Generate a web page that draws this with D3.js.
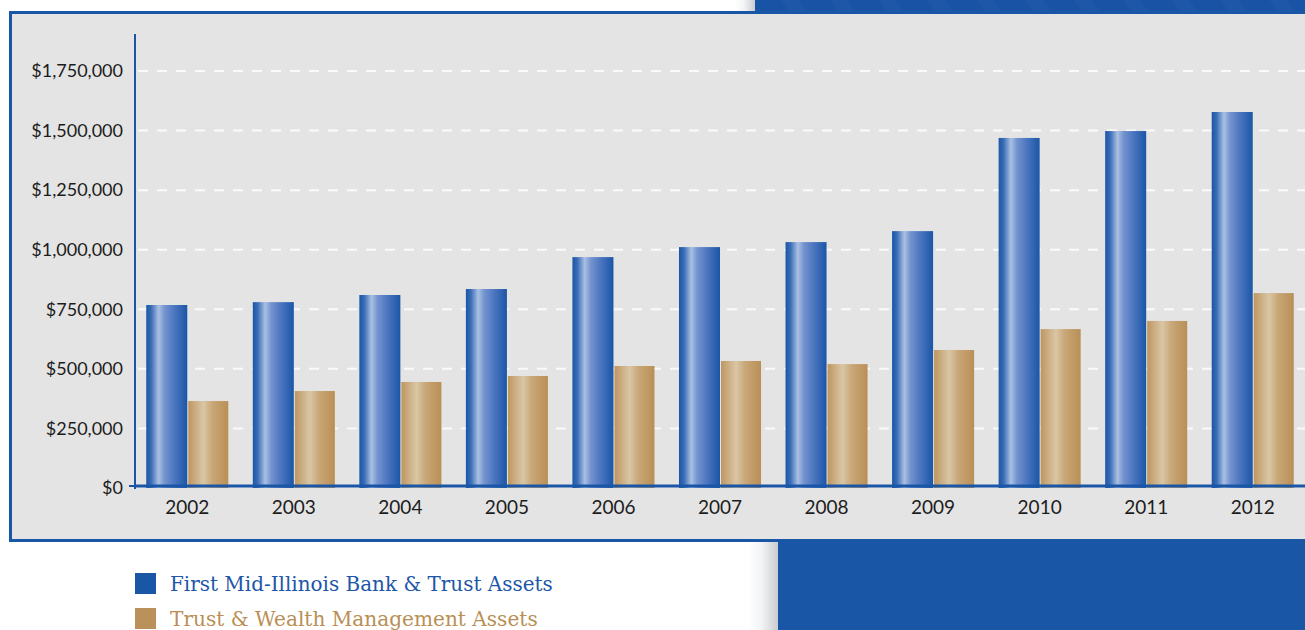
<!DOCTYPE html>
<html lang="en">
<head>
<meta charset="utf-8">
<title>Bank & Trust Assets 2002-2012</title>
<script src="https://d3js.org/d3.v7.min.js"></script>
<style>
  body { margin: 0; background: #fff; }
  .axis text { font-family: Lato, sans-serif; fill: #1c1c1c; }
</style>
</head>
<body>
<script>
const years = ["2002","2003","2004","2005","2006","2007","2008","2009","2010","2011","2012"];
const bankAssets = [768000, 780000, 810000, 835000, 969000, 1011000, 1032000, 1078000, 1469000, 1498000, 1578000];
const trustAssets = [365000, 407000, 445000, 470000, 512000, 533000, 520000, 579000, 667000, 701000, 818000];
const yTicks = [0, 250000, 500000, 750000, 1000000, 1250000, 1500000, 1750000];
const seriesNames = ["First Mid-Illinois Bank & Trust Assets", "Trust & Wealth Management Assets"];

const width = 1305, height = 630;
const blue = "#1a56a6", gold = "#ba915a";

const svg = d3.select("body").append("svg")
  .attr("width", width).attr("height", height);

const defs = svg.append("defs");
const grad = (id, stops) => {
  const g = defs.append("linearGradient").attr("id", id)
    .attr("x1", "0%").attr("x2", "100%").attr("y1", "0%").attr("y2", "0%");
  stops.forEach(s => g.append("stop").attr("offset", s[0]).attr("stop-color", s[1]));
};
grad("gBlue", [["0%", "#1a56a6"], ["12%", "#3a6cb6"], ["30%", "#a9c0e2"], ["45%", "#7393cf"], ["70%", "#4a74bf"], ["100%", "#1a56a6"]]);
grad("gGold", [["0%", "#bf965e"], ["15%", "#c9a97c"], ["38%", "#d9c6a5"], ["60%", "#c9a778"], ["100%", "#b98f55"]]);
grad("shadow", [["0%", "#ffffff"], ["45%", "#f3f4f5"], ["100%", "#c9ccd0"]]);

const stripes = defs.append("pattern").attr("id", "stripes")
  .attr("width", 40).attr("height", 40).attr("patternUnits", "userSpaceOnUse")
  .attr("patternTransform", "rotate(-35)");
stripes.append("rect").attr("width", 40).attr("height", 40).attr("fill", "#1853a6");
stripes.append("rect").attr("width", 14).attr("height", 40).attr("fill", "#2a5fab").attr("opacity", 0.35);

// background decoration
svg.append("rect").attr("x", 735).attr("y", 0).attr("width", 20).attr("height", 14).attr("fill", "url(#shadow)");
svg.append("rect").attr("x", 755).attr("y", 0).attr("width", 560).attr("height", 14).attr("fill", "url(#stripes)");
svg.append("rect").attr("x", 748).attr("y", 540).attr("width", 30).attr("height", 100).attr("fill", "url(#shadow)");
svg.append("rect").attr("x", 778).attr("y", 540).attr("width", 540).attr("height", 100).attr("fill", "#1956a6");

// panel
svg.append("rect").attr("x", 10.5).attr("y", 12.5).attr("width", 1320).attr("height", 528)
  .attr("fill", "#e4e4e4").attr("stroke", blue).attr("stroke-width", 3);

const x = d3.scaleBand().domain(years).range([134, 1306]).paddingInner(0.23).paddingOuter(0.115);
const xs = d3.scaleBand().domain([0, 1]).range([0, x.bandwidth()]);
const y = d3.scaleLinear().domain([0, 1750000]).range([488, 71]);

// grid
svg.append("g").selectAll("line").data(yTicks.slice(1)).join("line")
  .attr("x1", 138).attr("x2", width)
  .attr("y1", d => y(d)).attr("y2", d => y(d))
  .attr("stroke", "#fafafa").attr("stroke-width", 2).attr("stroke-dasharray", "10,9");

// bars
const groups = svg.append("g").selectAll("g").data(years).join("g")
  .attr("transform", d => `translate(${x(d)},0)`);
groups.append("rect")
  .attr("x", xs(0)).attr("width", xs.bandwidth())
  .attr("y", (d, i) => y(bankAssets[i])).attr("height", (d, i) => y(0) - y(bankAssets[i]))
  .attr("fill", "url(#gBlue)");
groups.append("rect")
  .attr("x", xs(1) + 1).attr("width", xs.bandwidth() - 1)
  .attr("y", (d, i) => y(trustAssets[i])).attr("height", (d, i) => y(0) - y(trustAssets[i]))
  .attr("fill", "url(#gGold)");

// axes
const yAxis = d3.axisLeft(y).tickValues(yTicks)
  .tickFormat(d => "$" + d3.format(",")(d)).tickSize(0).tickPadding(12);
const gy = svg.append("g").attr("class", "axis").attr("transform", "translate(135,0)").call(yAxis);
gy.select(".domain").remove();
gy.selectAll("text").attr("font-size", 18);
svg.append("line").attr("x1", 135).attr("x2", 135).attr("y1", 34).attr("y2", y(0) + 1)
  .attr("stroke", blue).attr("stroke-width", 2);
svg.append("line").attr("x1", 129).attr("x2", 135).attr("y1", y(0) - 2).attr("y2", y(0) - 2)
  .attr("stroke", blue).attr("stroke-width", 2);

const xAxis = d3.axisBottom(x).tickSize(0).tickPadding(15);
const gx = svg.append("g").attr("class", "axis").attr("transform", `translate(0,${y(0) - 2})`).call(xAxis);
gx.select(".domain").remove();
gx.selectAll("text").attr("font-size", 19);
svg.append("line").attr("x1", 134).attr("x2", width).attr("y1", y(0) - 2).attr("y2", y(0) - 2)
  .attr("stroke", blue).attr("stroke-width", 3);

// legend
const legend = svg.append("g").selectAll("g").data(seriesNames).join("g")
  .attr("transform", (d, i) => `translate(135,${573 + i * 35})`);
legend.append("rect").attr("width", 21).attr("height", 21).attr("fill", (d, i) => i ? gold : blue);
legend.append("text").attr("x", 35).attr("y", 18)
  .attr("font-family", "'DejaVu Serif', serif").attr("font-size", 20)
  .attr("fill", (d, i) => i ? "#b98f55" : "#2056a8")
  .text(d => d)
  .each(function (d, i) {
    const target = i ? 368 : 383;
    const w = this.getComputedTextLength();
    d3.select(this).attr("font-size", 20 * target / w);
  });
</script>
</body>
</html>
